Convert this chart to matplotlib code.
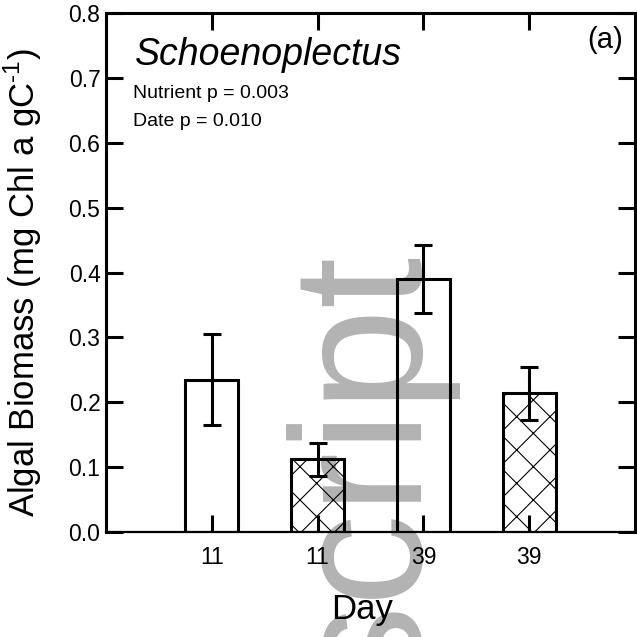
import matplotlib
matplotlib.use("Agg")
import matplotlib.pyplot as plt

# data
days = ["11", "11", "39", "39"]
biomass = [0.235, 0.112, 0.390, 0.214]
errs = [0.070, 0.025, 0.052, 0.041]
hatches = ["", "x", "", "x"]
yticks = [0.0, 0.1, 0.2, 0.3, 0.4, 0.5, 0.6, 0.7, 0.8]

plt.rcParams['font.family'] = ['Liberation Sans', 'DejaVu Sans']
plt.rcParams['mathtext.fontset'] = 'custom'
plt.rcParams['mathtext.rm'] = 'Liberation Sans'
plt.rcParams['hatch.linewidth'] = 0.8
plt.rcParams['hatch.color'] = 'black'

fig = plt.figure(figsize=(6.37, 6.37), dpi=100)
fig.patch.set_facecolor('white')
ax = fig.add_axes([0.1664, 0.1648, 0.8305, 0.8148])
ax.set_zorder(1)
ax.patch.set_visible(False)

# grey watermark behind the plot lines
fig.text(417 / 637, -0.086, "script", rotation=90, rotation_mode='anchor',
         ha='left', va='baseline', fontsize=133, color='#b3b3b3', zorder=0)

x = list(range(1, len(days) + 1))
for xi, h, ht in zip(x, biomass, hatches):
    ax.bar(xi, h, width=0.5, facecolor='none', edgecolor='black',
           linewidth=2.2, hatch=ht if ht else None, zorder=2)
ax.errorbar(x, biomass, yerr=errs, fmt='none', ecolor='black',
            elinewidth=2.2, capsize=6.5, capthick=2.2, zorder=3)

ax.set_xlim(0, 5)
ax.set_ylim(0, 0.8)
ax.set_xticks(x)
ax.set_xticklabels(days)
ax.set_yticks(yticks)
ax.set_yticklabels(["%.1f" % v for v in yticks])
ax.tick_params(axis='both', direction='in', length=12, width=2.2,
               labelsize=16.5, top=True, right=True)
ax.tick_params(axis='x', pad=10)
ax.tick_params(axis='y', pad=4)

for s in ['left', 'right', 'top']:
    ax.spines[s].set_linewidth(2.2)
ax.spines['bottom'].set_linewidth(1.6)

ax.set_xlabel("Day", fontsize=25)
ax.xaxis.set_label_coords(0.484, -0.118)
ax.set_ylabel("Algal Biomass (mg Chl a gC$^{\\mathregular{\u20101}}$)", fontsize=25)
ax.yaxis.set_label_coords(-0.117, 0.48)

ax.text(0.0548, 0.8998, "Schoenoplectus", transform=ax.transAxes,
        fontsize=27, style='italic', ha='left', va='baseline')
ax.text(0.051, 0.836, "Nutrient p = 0.003", transform=ax.transAxes,
        fontsize=14, ha='left', va='baseline')
ax.text(0.051, 0.782, "Date p = 0.010", transform=ax.transAxes,
        fontsize=14, ha='left', va='baseline')
ax.text(0.977, 0.9326, "(a)", transform=ax.transAxes,
        fontsize=21, ha='right', va='baseline')

fig.savefig("out.png", dpi=100, facecolor='white')
